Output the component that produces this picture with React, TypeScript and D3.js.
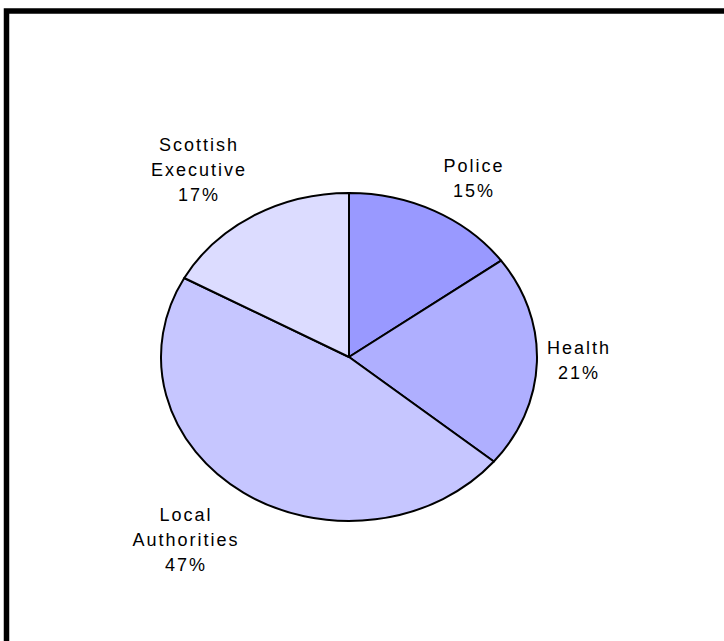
import React from "react";
import * as d3 from "d3";

const categories = ["Police", "Health", "Local Authorities", "Scottish Executive"];
const values = [15, 21, 47, 17];
const labelLines = [["Police", "15%"], ["Health", "21%"], ["Local", "Authorities", "47%"], ["Scottish", "Executive", "17%"]];
const colors = ["#9999ff", "#afafff", "#c6c6ff", "#dcdcff"];
// layout: label block centre (x) and first baseline (y), in pixels of the page
const labelLayout = [
  { x: 473, y: 172 },
  { x: 578, y: 354 },
  { x: 185, y: 520.5 },
  { x: 198, y: 151 },
];

const W = 724;
const H = 641;
const cx = 349;
const cy = 357;
const rx = 188;
const ry = 164;
const lineH = 25;

export default function App() {
  const pie = d3.pie<number>().sort(null).value((d) => d).startAngle(0).endAngle(2 * Math.PI);
  const arcs = pie(values);
  const arc = d3.arc<d3.PieArcDatum<number>>().innerRadius(0).outerRadius(rx);
  return (
    <svg
      width={W}
      height={H}
      style={{ position: "absolute", left: 0, top: 0, background: "#fff" }}
    >
      <rect x={0} y={0} width={W} height={H} fill="#fff" />
      <rect x={6.5} y={11} width={W + 50} height={H + 50} fill="none" stroke="#000" strokeWidth={5.5} />
      <g transform={`translate(${cx},${cy}) scale(1,${ry / rx})`}>
        {arcs.map((a, i) => (
          <path
            key={categories[i]}
            d={arc(a) || ""}
            fill={colors[i]}
            stroke="#000"
            strokeWidth={2}
            vectorEffect="non-scaling-stroke"
            strokeLinejoin="round"
          />
        ))}
      </g>
      {labelLines.map((lines, i) => (
        <text
          key={categories[i]}
          fontFamily="'Liberation Sans', Arial, sans-serif"
          fontSize={18}
          letterSpacing={2}
          fill="#000"
          textAnchor="middle"
        >
          {lines.map((l, j) => (
            <tspan key={j} x={labelLayout[i].x + 1} y={labelLayout[i].y + j * lineH}>
              {l}
            </tspan>
          ))}
        </text>
      ))}
    </svg>
  );
}
